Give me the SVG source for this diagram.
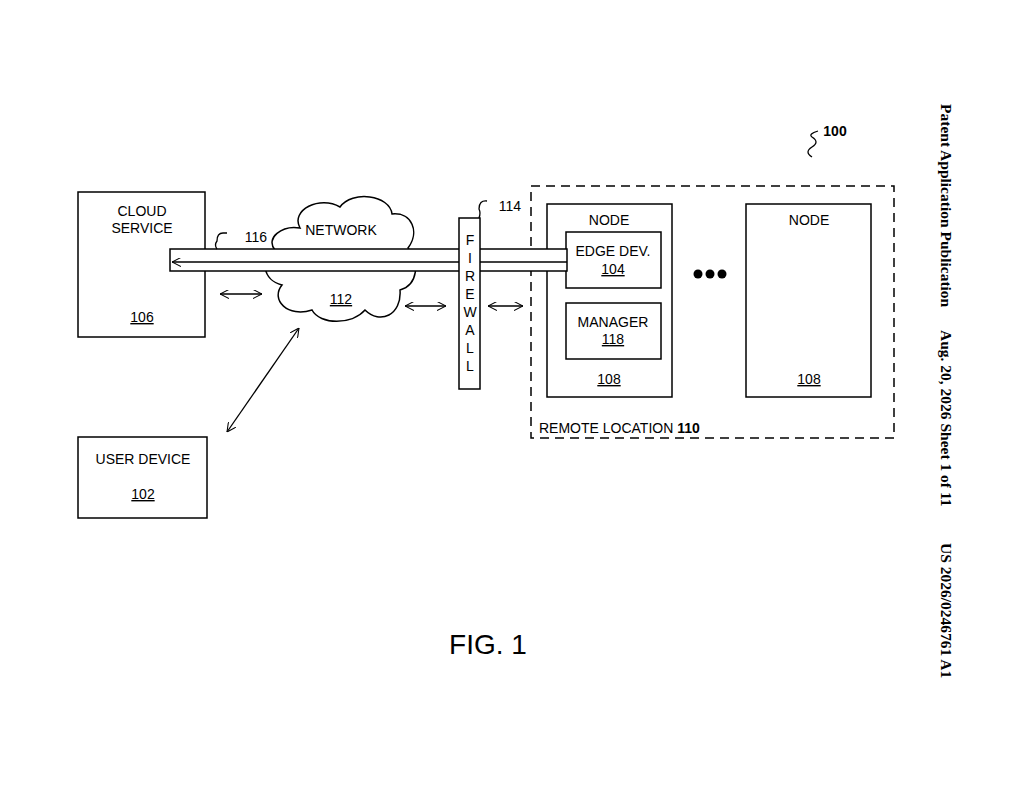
<svg xmlns="http://www.w3.org/2000/svg" width="1024" height="794" viewBox="0 0 1024 794">
<style>
.b{fill:#fff;stroke:#000;stroke-width:1.5}
.l{fill:none;stroke:#000;stroke-width:1.3}
text{font-family:"Liberation Sans",Arial,sans-serif;font-size:14px;fill:#000;text-anchor:middle}
.h{font-family:"Liberation Serif","Times New Roman",serif;font-weight:bold;font-size:15.5px}
</style>
<defs>
<marker id="a" viewBox="0 0 10 10" refX="10" refY="5" markerWidth="9" markerHeight="9" orient="auto-start-reverse" markerUnits="userSpaceOnUse"><path d="M0,0 L10,5 L0,10" fill="none" stroke="#000" stroke-width="1.2"/></marker>
</defs>
<rect width="1024" height="794" fill="#fff"/>
<g id="header">
<text class="h" transform="translate(941,104) rotate(90)" style="text-anchor:start">Patent Application Publication</text>
<text class="h" transform="translate(941,330) rotate(90)" style="text-anchor:start">Aug. 20, 2026  Sheet 1 of 11</text>
<text class="h" transform="translate(941,543) rotate(90)" style="text-anchor:start">US 2026/0246761 A1</text>
</g>
<g id="ref100"><path class="l" d="M812,157 q-8,-5 0,-10 q8,-5 0,-10 q-4,-3 6,-6"/><text x="835" y="136" style="font-weight:bold">100</text></g>
<g id="cloud-service"><rect class="b" x="78" y="192" width="127" height="145"/><text x="142" y="216">CLOUD</text><text x="142" y="233">SERVICE</text><text x="142" y="322" text-decoration="underline">106</text></g>
<g id="network"><path class="b" d="M300,228 C290,210 320,195 340,207 C352,190 390,195 392,214 C412,212 420,232 408,248 C420,262 418,285 400,290 C402,315 380,325 365,310 C352,325 320,325 312,310 C288,318 270,300 282,285 C262,280 260,258 275,250 C265,238 282,225 300,228 Z"/><text x="341" y="235">NETWORK</text><text x="341" y="304" text-decoration="underline">112</text></g>
<g id="user-device"><rect class="b" x="78" y="437" width="129" height="81"/><text x="143" y="464">USER DEVICE</text><text x="143" y="499" text-decoration="underline">102</text></g>
<g id="remote"><rect x="531" y="186" width="363" height="252" fill="none" stroke="#000" stroke-width="1.5" stroke-dasharray="9,6"/><text x="539" y="433" style="text-anchor:start">REMOTE LOCATION <tspan font-weight="bold">110</tspan></text></g>
<g id="node1"><rect class="b" x="547" y="204" width="125" height="193"/><text x="609" y="225">NODE</text><text x="609" y="384" text-decoration="underline">108</text></g>
<g id="edge"><rect class="b" x="566" y="232" width="95" height="56"/><text x="613" y="256">EDGE DEV.</text><text x="613" y="274" text-decoration="underline">104</text></g>
<g id="manager"><rect class="b" x="566" y="303" width="95" height="56"/><text x="613" y="327">MANAGER</text><text x="613" y="344" text-decoration="underline">118</text></g>
<g id="node2"><rect class="b" x="746" y="204" width="125" height="193"/><text x="809" y="225">NODE</text><text x="809" y="384" text-decoration="underline">108</text></g>
<g id="dots"><circle cx="698" cy="274" r="4.5"/><circle cx="710" cy="274" r="4.5"/><circle cx="722" cy="274" r="4.5"/></g>
<g id="connectors">
<rect class="b" x="170" y="249" width="397" height="22"/>
<line class="l" x1="172" y1="262" x2="567" y2="262" marker-start="url(#a)"/>
<path class="l" d="M217,249 q-3,-4 0,-8 q0,-8 6,-8 h4"/><text x="256" y="242">116</text>
<line class="l" x1="220" y1="294" x2="262" y2="294" marker-start="url(#a)" marker-end="url(#a)"/>
<line class="l" x1="405" y1="306" x2="446" y2="306" marker-start="url(#a)" marker-end="url(#a)"/>
<line class="l" x1="488" y1="306" x2="523" y2="306" marker-start="url(#a)" marker-end="url(#a)"/>
<line class="l" x1="227" y1="432" x2="299" y2="328" marker-start="url(#a)" marker-end="url(#a)"/>
</g>
<g id="firewall"><rect class="b" x="459" y="218" width="21" height="171"/>
<text x="470" y="245">F</text><text x="470" y="263">I</text><text x="470" y="281">R</text><text x="470" y="299">E</text><text x="470" y="317">W</text><text x="470" y="335">A</text><text x="470" y="353">L</text><text x="470" y="371">L</text>
<path class="l" d="M479,218 q2,-5 0,-9 q0,-9 8,-8"/><text x="510" y="211">114</text></g>
<text x="488" y="654" style="font-size:28px">FIG. 1</text>
</svg>
